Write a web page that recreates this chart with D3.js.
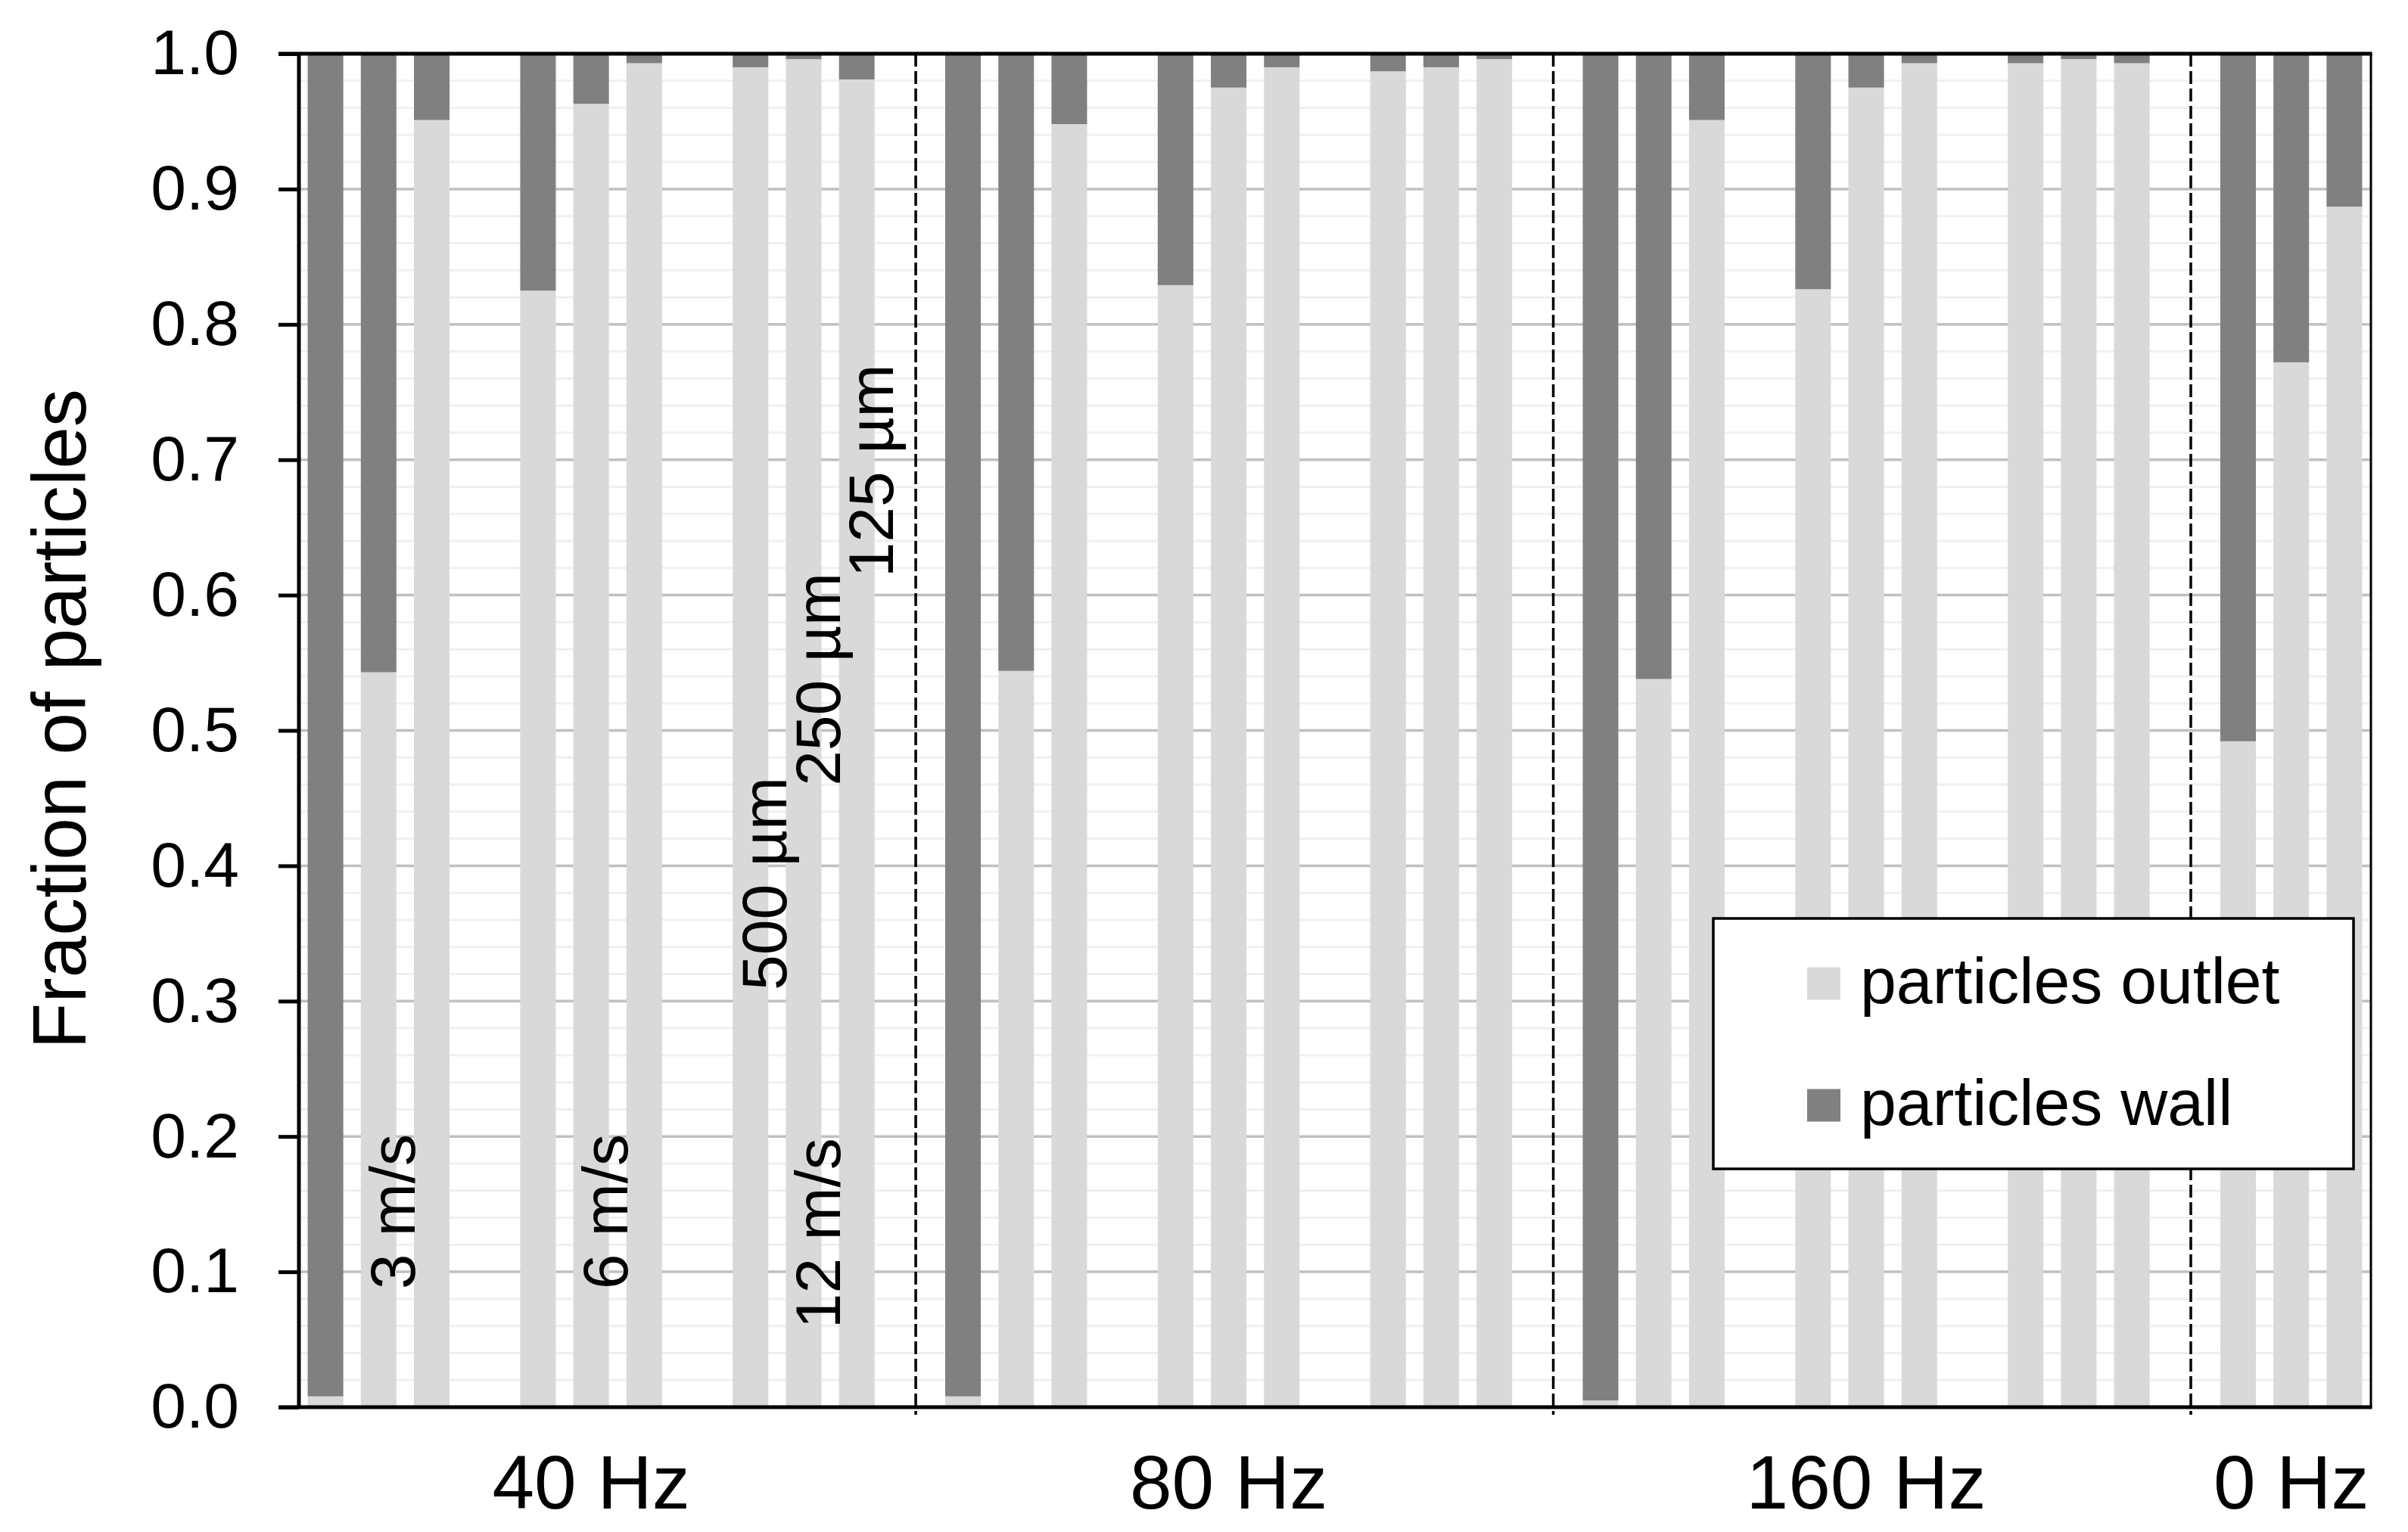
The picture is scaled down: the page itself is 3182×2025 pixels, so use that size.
<!DOCTYPE html>
<html>
<head>
<meta charset="utf-8">
<script src="https://cdn.jsdelivr.net/npm/d3@7"></script>
<style>
  html, body { margin: 0; padding: 0; background: #fff; }
  svg { display: block; font-family: "Liberation Sans", Arial, sans-serif; }
</style>
</head>
<body>
<svg id="chart" width="3182" height="2025"></svg>
<script>
// ---------------- DATA ----------------
// One category per slot on the category axis (gap / separator slots are empty)
const categories = [
  "40|3|500","40|3|250","40|3|125","40|gapA","40|6|500","40|6|250","40|6|125","40|gapB","40|12|500","40|12|250","40|12|125","sep40",
  "80|3|500","80|3|250","80|3|125","80|gapA","80|6|500","80|6|250","80|6|125","80|gapB","80|12|500","80|12|250","80|12|125","sep80",
  "160|3|500","160|3|250","160|3|125","160|gapA","160|6|500","160|6|250","160|6|125","160|gapB","160|12|500","160|12|250","160|12|125","sep160",
  "0|500","0|250","0|125"
];
// fraction of particles leaving via the outlet (null = empty slot)
const outletValues = [
  0.008, 0.543, 0.951, null, 0.825, 0.963, 0.993, null, 0.990, 0.996, 0.981, null,
  0.008, 0.544, 0.948, null, 0.829, 0.975, 0.990, null, 0.987, 0.990, 0.996, null,
  0.005, 0.538, 0.951, null, 0.826, 0.975, 0.993, null, 0.993, 0.996, 0.993, null,
  0.492, 0.772, 0.887
];
// fraction of particles deposited on the wall
const wallValues = [
  0.992, 0.457, 0.049, null, 0.175, 0.037, 0.007, null, 0.010, 0.004, 0.019, null,
  0.992, 0.456, 0.052, null, 0.171, 0.025, 0.010, null, 0.013, 0.010, 0.004, null,
  0.995, 0.462, 0.049, null, 0.174, 0.025, 0.007, null, 0.007, 0.004, 0.007, null,
  0.508, 0.228, 0.113
];
const seriesNames = ["particles outlet", "particles wall"];
const groupLabels = ["40 Hz", "80 Hz", "160 Hz", "0 Hz"];
const groupPrefixes = ["40|", "80|", "160|", "0|"];
const separators = ["sep40", "sep80", "sep160"];
const yTicks = [0, 0.1, 0.2, 0.3, 0.4, 0.5, 0.6, 0.7, 0.8, 0.9, 1.0];
const annotationTexts = ["3 m/s", "6 m/s", "12 m/s", "500 µm", "250 µm", "125 µm"];
const annotationCats  = ["40|3|250", "40|6|250", "40|12|250", "40|12|500", "40|12|250", "40|12|125"];
const annotationStart = [0.087, 0.087, 0.058, 0.308, 0.459, 0.613];

// ---------------- LAYOUT ----------------
const colors = { outlet: "#d9d9d9", wall: "#808080" };
const plot = { left: 395, right: 3133, top: 71, bottom: 1860 };
const svg = d3.select("#chart");

const x = d3.scaleBand().domain(categories)
  .range([plot.left, plot.right]).paddingInner(0.33).paddingOuter(0.165);
const y = d3.scaleLinear().domain([0, 1]).range([plot.bottom, plot.top]);

const rows = categories.map((c, i) => ({ cat: c, outlet: outletValues[i], wall: wallValues[i] }))
  .filter(d => d.outlet !== null);
const stack = d3.stack().keys(["outlet", "wall"]);
const stacked = stack(rows);

// ---------------- GRIDLINES ----------------
const minorTicks = d3.range(1, 50).map(k => k / 50).filter(v => Math.round(v * 50) % 5 !== 0);
svg.append("g").selectAll("line").data(minorTicks).join("line")
  .attr("x1", plot.left).attr("x2", plot.right)
  .attr("y1", d => y(d)).attr("y2", d => y(d))
  .attr("stroke", "#f0f0f0").attr("stroke-width", 3);
svg.append("g").selectAll("line").data(yTicks.filter(v => v > 0 && v < 1)).join("line")
  .attr("x1", plot.left).attr("x2", plot.right)
  .attr("y1", d => y(d)).attr("y2", d => y(d))
  .attr("stroke", "#c0c0c0").attr("stroke-width", 3.5);

// ---------------- BARS ----------------
svg.append("g").selectAll("g").data(stacked).join("g")
  .attr("fill", d => colors[d.key])
  .selectAll("rect").data(d => d).join("rect")
  .attr("x", d => x(d.data.cat))
  .attr("width", x.bandwidth())
  .attr("y", d => y(d[1]))
  .attr("height", d => y(d[0]) - y(d[1]));

// ---------------- SEPARATORS ----------------
svg.append("g").selectAll("line").data(separators).join("line")
  .attr("x1", d => x(d) + x.bandwidth() / 2 + x.step() * 0.11)
  .attr("x2", d => x(d) + x.bandwidth() / 2 + x.step() * 0.11)
  .attr("y1", plot.top).attr("y2", plot.bottom + 10)
  .attr("stroke", "#000").attr("stroke-width", 3.5)
  .attr("stroke-dasharray", "17,6");

// ---------------- ANNOTATIONS ----------------
svg.append("g").selectAll("text").data(annotationTexts).join("text")
  .attr("transform", (d, i) =>
    `translate(${x(annotationCats[i]) + x.bandwidth() / 2 + x.step() * 0.68},${y(annotationStart[i])}) rotate(-90)`)
  .attr("text-anchor", "start")
  .attr("font-size", 84)
  .attr("fill", "#000")
  .text(d => d);

// ---------------- AXES ----------------
const yAxis = d3.axisLeft(y).tickValues(yTicks).tickFormat(d3.format(".1f"))
  .tickSize(27).tickPadding(52);
const gy = svg.append("g").attr("transform", `translate(${plot.left},0)`).call(yAxis);
gy.select(".domain").remove();
gy.selectAll(".tick line").attr("stroke", "#000").attr("stroke-width", 5);
gy.selectAll(".tick text").attr("font-size", 84).attr("fill", "#000")
  .attr("font-family", "'Liberation Sans', Arial, sans-serif");

// frame: left axis, bottom axis, top line, right line
svg.append("line").attr("x1", plot.left).attr("x2", plot.left)
  .attr("y1", plot.top).attr("y2", plot.bottom).attr("stroke", "#000").attr("stroke-width", 5);
svg.append("line").attr("x1", plot.left - 27).attr("x2", plot.right + 1.5)
  .attr("y1", plot.bottom).attr("y2", plot.bottom).attr("stroke", "#000").attr("stroke-width", 5);
svg.append("line").attr("x1", plot.left - 27).attr("x2", plot.right + 1.5)
  .attr("y1", plot.top).attr("y2", plot.top).attr("stroke", "#000").attr("stroke-width", 5);
svg.append("line").attr("x1", plot.right).attr("x2", plot.right)
  .attr("y1", plot.top).attr("y2", plot.bottom).attr("stroke", "#000").attr("stroke-width", 3);

// group labels
svg.append("g").selectAll("text").data(groupLabels).join("text")
  .attr("x", (d, i) => {
    const cats = rows.map(r => r.cat).filter(c => c.startsWith(groupPrefixes[i]));
    const first = x(cats[0]) + x.bandwidth() / 2;
    const last = x(cats[cats.length - 1]) + x.bandwidth() / 2;
    return (first + last) / 2;
  })
  .attr("y", 1994)
  .attr("text-anchor", "middle")
  .attr("font-size", 100)
  .attr("fill", "#000")
  .text(d => d);

// y title
svg.append("text")
  .attr("transform", `translate(113,${(plot.top + plot.bottom) / 2 - 15}) rotate(-90)`)
  .attr("text-anchor", "middle")
  .attr("font-size", 100)
  .attr("fill", "#000")
  .text("Fraction of particles");

// ---------------- LEGEND ----------------
const legend = svg.append("g").attr("transform", "translate(2264,1214)");
legend.append("rect").attr("width", 846).attr("height", 331)
  .attr("fill", "#fff").attr("stroke", "#000").attr("stroke-width", 3.5);
const legendColors = [colors.outlet, colors.wall];
const li = legend.selectAll("g.item").data(seriesNames).join("g")
  .attr("class", "item")
  .attr("transform", (d, i) => `translate(124,${86 + i * 161})`);
li.append("rect").attr("width", 44).attr("height", 43).attr("y", -21.5)
  .attr("fill", (d, i) => legendColors[i]);
li.append("text").attr("x", 70).attr("y", 26)
  .attr("font-size", 86).attr("fill", "#000").text(d => d);
</script>
</body>
</html>
